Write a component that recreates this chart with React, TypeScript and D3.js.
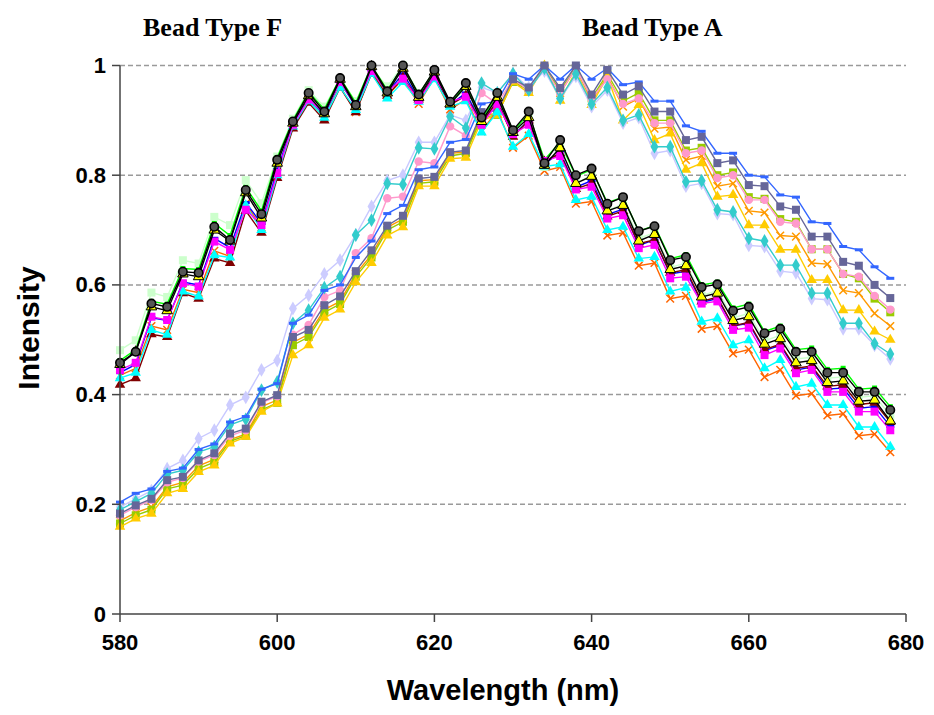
import React, { useEffect, useRef } from "react";
import * as d3 from "d3";

// wavelength samples (nm)
const wavelengths = [
  580, 582, 584, 586, 588, 590, 592, 594, 596, 598,
  600, 602, 604, 606, 608, 610, 612, 614, 616, 618,
  620, 622, 624, 626, 628, 630, 632, 634, 636, 638,
  640, 642, 644, 646, 648, 650, 652, 654, 656, 658,
  660, 662, 664, 666, 668, 670, 672, 674, 676, 678,
];

const xTicks = [580, 600, 620, 640, 660, 680];
const yTicks = [0, 0.2, 0.4, 0.6, 0.8, 1];
const yTickLabels = ["0", "0.2", "0.4", "0.6", "0.8", "1"];

// ---- Bead Type F spectra ----
const beadF1 = [
  0.458, 0.478, 0.566, 0.56, 0.624, 0.622, 0.706, 0.682, 0.773, 0.729,
  0.828, 0.898, 0.95, 0.916, 0.977, 0.928, 1.0, 0.953, 1.0, 0.947,
  0.992, 0.934, 0.968, 0.905, 0.95, 0.882, 0.916, 0.822, 0.864, 0.8,
  0.812, 0.748, 0.76, 0.698, 0.707, 0.645, 0.651, 0.596, 0.601, 0.553,
  0.56, 0.512, 0.52, 0.478, 0.478, 0.44, 0.44, 0.405, 0.405, 0.372,
];
const beadF2 = [
  0.481, 0.499, 0.586, 0.578, 0.645, 0.639, 0.724, 0.709, 0.791, 0.749,
  0.834, 0.903, 0.955, 0.925, 0.975, 0.935, 0.995, 0.962, 1.0, 0.95,
  0.985, 0.93, 0.96, 0.9, 0.94, 0.872, 0.905, 0.815, 0.852, 0.785,
  0.8, 0.735, 0.748, 0.685, 0.695, 0.632, 0.64, 0.58, 0.59, 0.54,
  0.548, 0.498, 0.508, 0.465, 0.468, 0.43, 0.432, 0.395, 0.398, 0.362,
];
const beadF3 = [
  0.445, 0.458, 0.542, 0.536, 0.603, 0.597, 0.679, 0.664, 0.737, 0.709,
  0.804, 0.892, 0.938, 0.914, 0.97, 0.928, 0.99, 0.953, 0.976, 0.937,
  0.98, 0.934, 0.943, 0.892, 0.93, 0.875, 0.892, 0.826, 0.835, 0.774,
  0.779, 0.721, 0.727, 0.667, 0.673, 0.612, 0.615, 0.566, 0.57, 0.518,
  0.522, 0.472, 0.484, 0.439, 0.445, 0.405, 0.405, 0.369, 0.369, 0.335,
];
const beadF4 = [
  0.43, 0.44, 0.518, 0.509, 0.588, 0.579, 0.654, 0.65, 0.745, 0.7,
  0.8, 0.889, 0.935, 0.905, 0.96, 0.919, 0.985, 0.94, 0.97, 0.934,
  0.975, 0.925, 0.935, 0.878, 0.915, 0.852, 0.875, 0.816, 0.82, 0.755,
  0.761, 0.7, 0.706, 0.648, 0.651, 0.588, 0.595, 0.533, 0.539, 0.49,
  0.499, 0.448, 0.463, 0.414, 0.42, 0.381, 0.381, 0.341, 0.341, 0.305,
];
const beadF5 = [
  0.435, 0.448, 0.525, 0.518, 0.592, 0.586, 0.662, 0.652, 0.748, 0.705,
  0.805, 0.888, 0.935, 0.905, 0.962, 0.915, 0.988, 0.945, 0.975, 0.93,
  0.978, 0.92, 0.938, 0.88, 0.918, 0.85, 0.872, 0.808, 0.815, 0.748,
  0.752, 0.69, 0.695, 0.635, 0.64, 0.575, 0.58, 0.52, 0.525, 0.475,
  0.482, 0.432, 0.445, 0.398, 0.402, 0.362, 0.365, 0.325, 0.328, 0.295,
];
const beadF6 = [
  0.455, 0.478, 0.56, 0.553, 0.62, 0.615, 0.7, 0.68, 0.768, 0.722,
  0.822, 0.895, 0.945, 0.912, 0.975, 0.925, 0.998, 0.95, 0.995, 0.942,
  0.988, 0.93, 0.962, 0.898, 0.942, 0.878, 0.905, 0.818, 0.85, 0.785,
  0.798, 0.735, 0.745, 0.68, 0.692, 0.628, 0.635, 0.578, 0.585, 0.535,
  0.542, 0.492, 0.502, 0.458, 0.462, 0.422, 0.425, 0.388, 0.39, 0.352,
];
const beadF7 = [
  0.418, 0.43, 0.51, 0.505, 0.585, 0.575, 0.648, 0.64, 0.735, 0.695,
  0.795, 0.885, 0.932, 0.9, 0.96, 0.915, 0.985, 0.945, 0.978, 0.938,
  0.982, 0.928, 0.945, 0.895, 0.935, 0.87, 0.9, 0.825, 0.84, 0.775,
  0.785, 0.725, 0.735, 0.675, 0.682, 0.622, 0.628, 0.57, 0.578, 0.525,
  0.532, 0.482, 0.492, 0.448, 0.452, 0.415, 0.418, 0.382, 0.385, 0.35,
];
const beadF8 = [
  0.462, 0.482, 0.57, 0.565, 0.63, 0.628, 0.712, 0.69, 0.778, 0.735,
  0.832, 0.9, 0.952, 0.92, 0.978, 0.932, 1.0, 0.955, 0.998, 0.948,
  0.99, 0.932, 0.965, 0.902, 0.948, 0.88, 0.912, 0.828, 0.86, 0.798,
  0.81, 0.75, 0.76, 0.698, 0.708, 0.648, 0.655, 0.6, 0.605, 0.558,
  0.565, 0.515, 0.525, 0.482, 0.485, 0.446, 0.448, 0.41, 0.412, 0.378,
];
const beadF9 = [
  0.44, 0.455, 0.54, 0.535, 0.605, 0.6, 0.685, 0.668, 0.75, 0.712,
  0.81, 0.893, 0.94, 0.91, 0.97, 0.925, 0.992, 0.95, 0.985, 0.94,
  0.982, 0.928, 0.95, 0.895, 0.935, 0.872, 0.9, 0.82, 0.842, 0.778,
  0.79, 0.728, 0.738, 0.672, 0.682, 0.62, 0.625, 0.568, 0.575, 0.525,
  0.53, 0.48, 0.49, 0.445, 0.45, 0.41, 0.412, 0.375, 0.378, 0.342,
];

// ---- Bead Type A spectra ----
const beadAGray = [
  0.183, 0.198, 0.21, 0.244, 0.25, 0.28, 0.293, 0.329, 0.338, 0.387,
  0.399, 0.505, 0.518, 0.563, 0.579, 0.625, 0.663, 0.708, 0.726, 0.794,
  0.797, 0.842, 0.845, 0.915, 0.918, 0.975, 0.96, 1.0, 0.959, 1.0,
  0.947, 0.992, 0.947, 0.962, 0.916, 0.916, 0.864, 0.87, 0.822, 0.827,
  0.782, 0.78, 0.743, 0.737, 0.688, 0.688, 0.642, 0.635, 0.6, 0.576,
];
const beadABlue = [
  0.204, 0.22, 0.228, 0.26, 0.266, 0.3, 0.31, 0.35, 0.36, 0.41,
  0.42, 0.53, 0.545, 0.59, 0.6, 0.65, 0.68, 0.73, 0.745, 0.81,
  0.815, 0.86, 0.865, 0.93, 0.935, 0.985, 0.975, 1.0, 0.975, 1.0,
  0.975, 0.995, 0.965, 0.97, 0.935, 0.935, 0.89, 0.88, 0.84, 0.84,
  0.8, 0.797, 0.764, 0.76, 0.715, 0.712, 0.67, 0.664, 0.633, 0.612,
];
const beadACyan = [
  0.19, 0.205, 0.22, 0.255, 0.262, 0.295, 0.305, 0.345, 0.355, 0.408,
  0.423, 0.53, 0.554, 0.595, 0.615, 0.691, 0.718, 0.785, 0.783, 0.85,
  0.848, 0.907, 0.886, 0.968, 0.95, 0.985, 0.955, 0.995, 0.94, 0.985,
  0.93, 0.96, 0.9, 0.91, 0.852, 0.852, 0.788, 0.79, 0.737, 0.733,
  0.685, 0.68, 0.636, 0.636, 0.585, 0.585, 0.53, 0.53, 0.493, 0.474,
];
const beadALavender = [
  0.195, 0.21, 0.225, 0.265, 0.28, 0.32, 0.335, 0.381, 0.395, 0.445,
  0.462, 0.557, 0.581, 0.62, 0.645, 0.691, 0.743, 0.79, 0.8, 0.86,
  0.86, 0.91, 0.9, 0.96, 0.95, 0.985, 0.96, 0.99, 0.94, 0.98,
  0.925, 0.955, 0.895, 0.905, 0.84, 0.845, 0.78, 0.785, 0.73, 0.728,
  0.672, 0.67, 0.625, 0.622, 0.575, 0.573, 0.52, 0.52, 0.49, 0.465,
];
const beadAPink = [
  0.18, 0.195, 0.208, 0.24, 0.248, 0.278, 0.29, 0.325, 0.335, 0.385,
  0.397, 0.509, 0.527, 0.578, 0.59, 0.658, 0.685, 0.758, 0.761, 0.825,
  0.822, 0.889, 0.872, 0.95, 0.93, 0.975, 0.955, 0.995, 0.95, 0.995,
  0.94, 0.975, 0.93, 0.94, 0.895, 0.895, 0.84, 0.845, 0.795, 0.8,
  0.755, 0.755, 0.715, 0.712, 0.665, 0.665, 0.62, 0.615, 0.58, 0.555,
];
const beadAGold = [
  0.159, 0.174, 0.183, 0.22, 0.228, 0.259, 0.271, 0.311, 0.323, 0.369,
  0.384, 0.472, 0.49, 0.54, 0.555, 0.605, 0.64, 0.69, 0.705, 0.78,
  0.78, 0.83, 0.832, 0.9, 0.91, 0.97, 0.95, 1.0, 0.936, 0.99,
  0.928, 0.98, 0.9, 0.928, 0.864, 0.876, 0.81, 0.822, 0.761, 0.764,
  0.709, 0.709, 0.664, 0.664, 0.609, 0.609, 0.554, 0.554, 0.515, 0.5,
];
const beadAOlive = [
  0.165, 0.18, 0.19, 0.228, 0.235, 0.265, 0.277, 0.315, 0.325, 0.372,
  0.385, 0.49, 0.505, 0.55, 0.565, 0.615, 0.65, 0.7, 0.715, 0.785,
  0.788, 0.835, 0.84, 0.905, 0.91, 0.97, 0.955, 0.995, 0.955, 0.995,
  0.94, 0.985, 0.935, 0.95, 0.9, 0.9, 0.845, 0.85, 0.8, 0.805,
  0.76, 0.757, 0.72, 0.715, 0.665, 0.665, 0.62, 0.612, 0.575, 0.55,
];
const beadAOrange = [
  0.17, 0.185, 0.195, 0.232, 0.24, 0.27, 0.282, 0.318, 0.328, 0.378,
  0.39, 0.495, 0.51, 0.555, 0.57, 0.62, 0.655, 0.705, 0.72, 0.79,
  0.792, 0.84, 0.842, 0.91, 0.912, 0.972, 0.958, 0.998, 0.95, 0.995,
  0.935, 0.98, 0.925, 0.94, 0.885, 0.888, 0.828, 0.835, 0.78, 0.785,
  0.735, 0.732, 0.69, 0.688, 0.64, 0.638, 0.59, 0.585, 0.548, 0.525,
];

// drawing order: bead A first, bead F on top
const series = [
  { values: beadAOrange, line: "#FF9900", marker: "x", fill: "#FF9900" },
  { values: beadAOlive, line: "#99CC00", marker: "square", fill: "#99CC00" },
  { values: beadAGold, line: "#FFCC00", marker: "triangle", fill: "#FFCC00" },
  { values: beadALavender, line: "#C8C8FF", marker: "diamond", fill: "#CCCCFF" },
  { values: beadAPink, line: "#FF99CC", marker: "circle", fill: "#FF99CC" },
  { values: beadACyan, line: "#33CCCC", marker: "diamond", fill: "#33CCCC" },
  { values: beadABlue, line: "#3366FF", marker: "dash", fill: "#3366FF" },
  { values: beadAGray, line: "#666699", marker: "square", fill: "#666699" },
  { values: beadF5, line: "#FF6600", marker: "x", fill: "#FF6600" },
  { values: beadF2, line: "#CCFFCC", marker: "square", fill: "#CCFFCC" },
  { values: beadF8, line: "#00FF00", marker: "square-sm", fill: "#00FF00" },
  { values: beadF9, line: "#0000FF", marker: "dash", fill: "#0000FF" },
  { values: beadF7, line: "#800000", marker: "triangle", fill: "#800000" },
  { values: beadF4, line: "#00FFFF", marker: "triangle", fill: "#00FFFF" },
  { values: beadF3, line: "#FF00FF", marker: "square", fill: "#FF00FF" },
  { values: beadF6, line: "#000000", marker: "triangle-o", fill: "#FFFF00" },
  { values: beadF1, line: "#000000", marker: "circle-o", fill: "#555555" },
];

const W = 934;
const H = 715;

export default function App() {
  const ref = useRef<SVGSVGElement>(null);

  useEffect(() => {
    const svg = d3.select(ref.current);
    svg.selectAll("*").remove();

    const xScale = d3.scaleLinear().domain([580, 680]).range([120, 906]);
    const yScale = d3.scaleLinear().domain([0, 1]).range([614, 65.5]);

    // gridlines
    svg.append("g")
      .selectAll("line")
      .data(yTicks.filter((d) => d > 0))
      .join("line")
      .attr("x1", xScale(580))
      .attr("x2", xScale(680))
      .attr("y1", (d) => yScale(d))
      .attr("y2", (d) => yScale(d))
      .attr("stroke", "#9a9a9a")
      .attr("stroke-width", 1.5)
      .attr("stroke-dasharray", "5,3");

    const lineGen = d3.line<number>()
      .x((_, i) => xScale(wavelengths[i]))
      .y((d) => yScale(d));

    const plot = svg.append("g");
    series.forEach((s) => {
      const g = plot.append("g");
      g.append("path")
        .attr("d", lineGen(s.values))
        .attr("fill", "none")
        .attr("stroke", s.line)
        .attr("stroke-width", 1.4);

      const pts = g.selectAll("g.pt")
        .data(s.values)
        .join("g")
        .attr("transform", (d, i) => `translate(${xScale(wavelengths[i])},${yScale(d)})`);

      if (s.marker === "circle" || s.marker === "circle-o") {
        pts.append("circle")
          .attr("r", 4.2)
          .attr("fill", s.fill)
          .attr("stroke", s.marker === "circle-o" ? "#000" : "none")
          .attr("stroke-width", 1.6);
      } else if (s.marker === "square" || s.marker === "square-sm") {
        const h = s.marker === "square" ? 4 : 2.5;
        pts.append("rect")
          .attr("x", -h).attr("y", -h).attr("width", h * 2).attr("height", h * 2)
          .attr("fill", s.fill);
      } else if (s.marker === "triangle" || s.marker === "triangle-o") {
        pts.append("path")
          .attr("d", d3.symbol(d3.symbolTriangle, 48)())
          .attr("fill", s.fill)
          .attr("stroke", s.marker === "triangle-o" ? "#000" : "none")
          .attr("stroke-width", 1);
      } else if (s.marker === "diamond") {
        pts.append("path")
          .attr("d", d3.symbol(d3.symbolDiamond, 55)())
          .attr("fill", s.fill);
      } else if (s.marker === "x") {
        pts.append("path")
          .attr("d", d3.symbol(d3.symbolX, 40)())
          .attr("fill", "none")
          .attr("stroke", s.fill)
          .attr("stroke-width", 1.5);
      } else if (s.marker === "dash") {
        pts.append("rect")
          .attr("x", -4).attr("y", -1.5).attr("width", 8).attr("height", 3)
          .attr("fill", s.fill);
      }
    });

    // axes
    const axisColor = "#444";
    svg.append("line")
      .attr("x1", xScale(580)).attr("x2", xScale(580))
      .attr("y1", yScale(1)).attr("y2", yScale(0))
      .attr("stroke", axisColor).attr("stroke-width", 1.5);
    svg.append("line")
      .attr("x1", xScale(580)).attr("x2", xScale(680))
      .attr("y1", yScale(0)).attr("y2", yScale(0))
      .attr("stroke", axisColor).attr("stroke-width", 1.5);

    svg.append("g")
      .selectAll("line")
      .data(yTicks)
      .join("line")
      .attr("x1", xScale(580) - 8).attr("x2", xScale(580))
      .attr("y1", (d) => yScale(d)).attr("y2", (d) => yScale(d))
      .attr("stroke", axisColor).attr("stroke-width", 1.5);

    svg.append("g")
      .selectAll("line")
      .data(xTicks)
      .join("line")
      .attr("x1", (d) => xScale(d)).attr("x2", (d) => xScale(d))
      .attr("y1", yScale(0)).attr("y2", yScale(0) + 8)
      .attr("stroke", axisColor).attr("stroke-width", 1.5);

    const labelFont = "'Liberation Sans', Arial, sans-serif";

    svg.append("g")
      .selectAll("text")
      .data(yTicks)
      .join("text")
      .attr("x", xScale(580) - 14)
      .attr("y", (d) => yScale(d))
      .attr("text-anchor", "end")
      .attr("dominant-baseline", "central")
      .attr("font-family", labelFont)
      .attr("font-weight", "bold")
      .attr("font-size", 22)
      .text((d, i) => yTickLabels[i]);

    svg.append("g")
      .selectAll("text")
      .data(xTicks)
      .join("text")
      .attr("x", (d) => xScale(d))
      .attr("y", yScale(0) + 28)
      .attr("text-anchor", "middle")
      .attr("dominant-baseline", "central")
      .attr("font-family", labelFont)
      .attr("font-weight", "bold")
      .attr("font-size", 22)
      .text((d) => String(d));

    svg.append("text")
      .attr("x", 503)
      .attr("y", 690)
      .attr("text-anchor", "middle")
      .attr("dominant-baseline", "central")
      .attr("font-family", labelFont)
      .attr("font-weight", "bold")
      .attr("font-size", 29)
      .text("Wavelength (nm)");

    svg.append("text")
      .attr("transform", `translate(28, 328) rotate(-90)`)
      .attr("text-anchor", "middle")
      .attr("dominant-baseline", "central")
      .attr("font-family", labelFont)
      .attr("font-weight", "bold")
      .attr("font-size", 30)
      .text("Intensity");

    const serif = "'Liberation Serif', 'Times New Roman', serif";
    svg.append("text")
      .attr("x", 143).attr("y", 36)
      .attr("font-family", serif).attr("font-weight", "bold").attr("font-size", 26)
      .text("Bead Type F");
    svg.append("text")
      .attr("x", 582).attr("y", 36)
      .attr("font-family", serif).attr("font-weight", "bold").attr("font-size", 26)
      .text("Bead Type A");
  }, []);

  return (
    <svg
      ref={ref}
      width={W}
      height={H}
      style={{ position: "absolute", left: 0, top: 0, background: "#fff" }}
    />
  );
}
